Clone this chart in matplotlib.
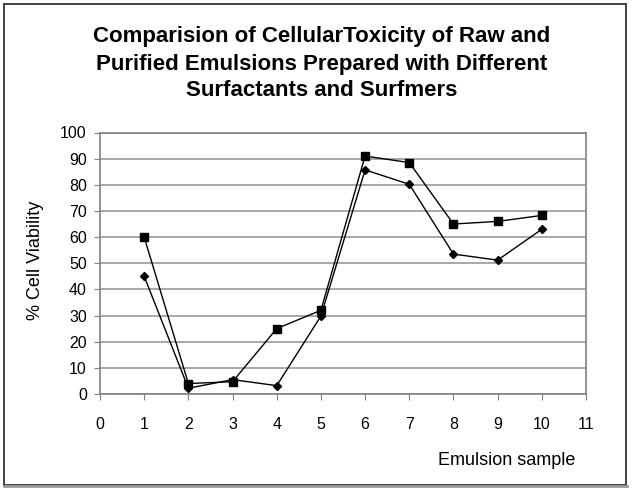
import matplotlib.pyplot as plt
from matplotlib.patches import Rectangle

# data
samples = [1, 2, 3, 4, 5, 6, 7, 8, 9, 10]
raw_values = [60, 4, 4.7, 25, 32, 91, 88.5, 65, 66, 68.3]
purified_values = [45, 2.2, 5.5, 3.2, 29.8, 85.7, 80.2, 53.5, 51.2, 63]
x_ticks = list(range(0, 12))
y_ticks = list(range(0, 101, 10))
title_lines = ['Comparision of CellularToxicity of Raw and',
               'Purified Emulsions Prepared with Different',
               'Surfactants and Surfmers']

plt.rcParams['font.family'] = ['Liberation Sans', 'DejaVu Sans']

W, H = 633, 491
fig = plt.figure(figsize=(W / 100, H / 100), dpi=100)
ax = fig.add_axes([100 / W, 1 - 394 / H, 486 / W, 261.5 / H])

# outer frame around the whole chart, with a grey shadow at the bottom
fig.patches.append(Rectangle((4 / W, 1 - 485 / H), 622 / W, 481 / H,
                             transform=fig.transFigure, fill=False,
                             edgecolor='#333333', linewidth=1.3))
fig.lines.append(plt.Line2D([4 / W, 627 / W], [1 - 486 / H, 1 - 486 / H],
                            transform=fig.transFigure, color='#999999',
                            linewidth=2))

ax.plot(samples, raw_values, color='black', linewidth=1, marker='s',
        markersize=5.2, markerfacecolor='black', clip_on=False)
ax.plot(samples, purified_values, color='black', linewidth=1, marker='D',
        markersize=4, markerfacecolor='black', clip_on=False)

ax.set_xlim(0, 11)
ax.set_ylim(0, 100)
ax.set_xticks(x_ticks)
ax.set_yticks(y_ticks)
ax.yaxis.grid(True, color='#9a9a9a', linewidth=1.2)
ax.set_axisbelow(True)
for s in ax.spines.values():
    s.set_color('#808080')
    s.set_linewidth(1.2)
ax.tick_params(axis='both', direction='out', length=4.5, color='#808080',
               labelsize=11.5, pad=5)
ax.tick_params(axis='x', pad=12)

fig.text(36 / W, 1 - 260 / H, '% Cell Viability', fontsize=13, rotation=90,
         ha='center', va='center')
fig.text(507 / W, 1 - 465 / H, 'Emulsion sample', fontsize=13,
         ha='center', va='baseline')

for line, base in zip(title_lines, [42, 70, 96]):
    fig.text(322 / W, 1 - base / H, line, fontsize=16, fontweight='bold',
             ha='center', va='baseline')

fig.savefig('out.png', dpi=100)
